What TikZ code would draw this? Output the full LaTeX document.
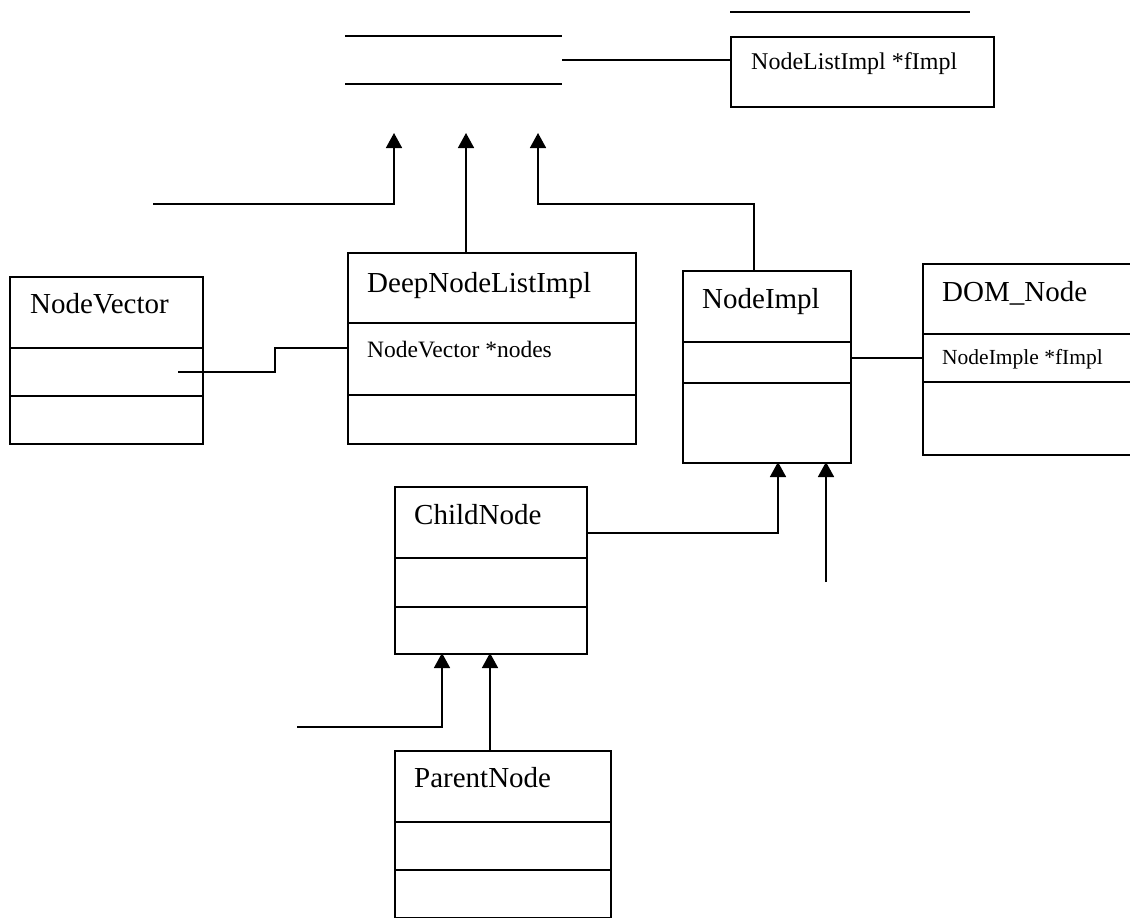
\documentclass[tikz,border=0pt]{standalone}
\usepackage{fontspec}
\setmainfont{Liberation Serif}
\usetikzlibrary{arrows.meta,calc}
\tikzset{
  box/.style={draw, line width=1.6pt, inner sep=0pt, anchor=north west},
  title/.style={anchor=base west, inner sep=0pt, font=\fontsize{29}{32}\selectfont},
  attr/.style={anchor=base west, inner sep=0pt, font=\fontsize{22}{24}\selectfont},
  link/.style={line width=1.6pt},
  inh/.style={line width=1.6pt, -{Triangle[width=16pt,length=15pt]}},
}
% class box: name, left, top, right, bottom, first divider, second divider
\newcommand\umlbox[7]{%
  \node[box, minimum width=#4-#2, minimum height=#5-#3] (#1) at (#2,#3) {};
  \draw[link] (#2,#6) -- (#4,#6);
  \draw[link] (#2,#7) -- (#4,#7);}
\begin{document}
\begin{tikzpicture}[x=1pt, y=-1pt]
\useasboundingbox (0,0) rectangle (1130,918);

% NodeList (compartment lines only)
\node[inner sep=0pt, minimum width=217pt, minimum height=48pt, anchor=north west] (nodelist) at (345,36) {};
\draw[link] (345,36) -- (562,36);
\draw[link] (345,84) -- (562,84);

% NodeListImpl reference box
\node[box, minimum width=263pt, minimum height=70pt] (listref) at (730,36) {};
\draw[link] (730,12) -- (970,12);
\node[attr, font=\fontsize{24}{26}\selectfont] (listreftxt) at (751,69) {NodeListImpl *fImpl};
\draw[link] (nodelist.east) -- (nodelist.east -| listref.west);

% classes
\umlbox{nodevector}{9}{276}{202}{443}{348}{396}
\node[title] (nvtxt) at (30,313) {NodeVector};

\umlbox{deep}{347}{252}{635}{443}{323}{395}
\node[title] (deeptxt) at (367,292) {DeepNodeListImpl};
\node[attr, font=\fontsize{23.5}{26}\selectfont] (deepattr) at (367,357) {NodeVector *nodes};

\umlbox{nodeimpl}{682}{270}{850}{462}{342}{383}
\node[title] (nitxt) at (702,308) {NodeImpl};

\umlbox{domnode}{922}{263}{1136}{454}{334}{382}
\node[title] (domtxt) at (942,301) {DOM\_Node};
\node[attr, font=\fontsize{21.5}{24}\selectfont] (domattr) at (942,364) {NodeImple *fImpl};

\umlbox{child}{394}{486}{586}{653}{558}{607}
\node[title] (childtxt) at (414,524) {ChildNode};

\umlbox{parent}{394}{750}{610}{917}{822}{870}
\node[title] (parenttxt) at (414,787) {ParentNode};

% arrow tips under NodeList
\coordinate (t1) at (394,133);
\coordinate (t2) at (466,133);
\coordinate (t3) at (538,133);
\coordinate (l1) at (153,204);
\draw[inh] (l1) -| (t1);
\draw[inh] (deep.north -| t2) -- (t2);
\draw[inh] (nodeimpl.north -| 754,0) |- (538,204) -- (t3);

% NodeVector association
\coordinate (nvend) at (178,372);
\draw[link] (deep.west |- 0,348) -- (275,348) -- (275,372) -- (nvend);

% NodeImpl -- DOM_Node
\draw[link] (nodeimpl.east |- 0,358) -- (domnode.west |- 0,358);

% inheritance into NodeImpl
\coordinate (n1) at (778,462);
\coordinate (n2) at (826,462);
\coordinate (l2) at (826,582);
\draw[inh] (child.east |- 0,533) -| (n1);
\draw[inh] (l2) -- (n2);

% inheritance into ChildNode
\coordinate (c1) at (442,653);
\coordinate (c2) at (490,653);
\coordinate (l3) at (297,727);
\draw[inh] (l3) -| (c1);
\draw[inh] (parent.north -| c2) -- (c2);
\end{tikzpicture}
\end{document}
